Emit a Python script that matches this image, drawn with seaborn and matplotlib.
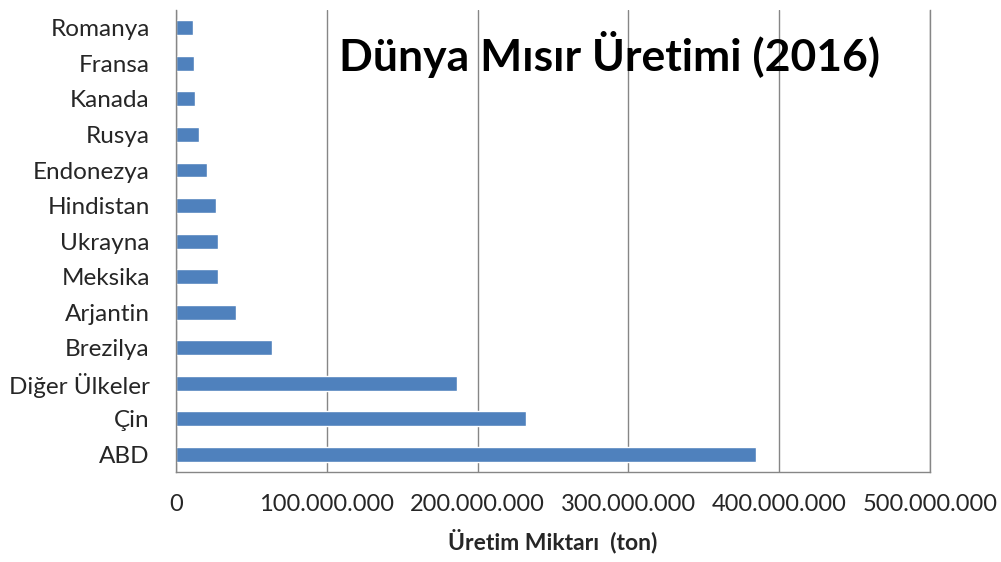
import matplotlib
matplotlib.use('Agg')
import matplotlib.pyplot as plt
import matplotlib.ticker as mticker
import seaborn as sns
import pandas as pd
import numpy as np

# data (top to bottom)
countries = ['Romanya', 'Fransa', 'Kanada', 'Rusya', 'Endonezya', 'Hindistan',
             'Ukrayna', 'Meksika', 'Arjantin', 'Brezilya', 'Diğer Ülkeler', 'Çin', 'ABD']
production = [11_300_000, 12_000_000, 12_800_000, 15_400_000, 20_500_000, 26_500_000,
              28_000_000, 28_000_000, 40_000_000, 63_800_000, 186_300_000, 232_000_000, 384_800_000]
x_ticks = [0, 100_000_000, 200_000_000, 300_000_000, 400_000_000, 500_000_000]

df = pd.DataFrame({'country': countries, 'production': production})

sns.set_style('white')
plt.rcParams['font.family'] = ['Lato', 'DejaVu Sans']

bar_color = '#4F81BD'
grid_color = '#868686'

fig = plt.figure(figsize=(10.01, 5.62), dpi=100)
ax = fig.add_axes([0.176, 0.16, 0.753, 0.822])

sns.barplot(data=df, y='country', x='production', orient='h', color=bar_color,
            width=0.42, saturation=1, ax=ax)

ax.set_xlim(0, 500_000_000)
ax.set_ylim(len(countries) - 0.5, -0.5)
ax.set_xticks(x_ticks)
ax.xaxis.set_major_formatter(mticker.FuncFormatter(lambda v, p: f'{int(v):,}'.replace(',', '.')))
ax.grid(axis='x', color=grid_color, linewidth=1)
ax.set_axisbelow(True)

# Excel-style tick marks between categories
ax.set_yticks(np.arange(len(countries) + 1) - 0.5, minor=True)
ax.tick_params(axis='y', which='major', length=0, pad=19, labelsize=17.5, labelcolor='#262626')
ax.tick_params(axis='y', which='minor', length=6, color=grid_color, width=1)
ax.tick_params(axis='x', which='major', length=8, direction='out', color=grid_color,
               width=1, pad=8, labelsize=17, labelcolor='#262626')

ax.spines['top'].set_visible(False)
for side in ['left', 'bottom', 'right']:
    ax.spines[side].set_color(grid_color)
    ax.spines[side].set_linewidth(1)

ax.set_ylabel('')
ax.set_xlabel('Üretim Miktarı  (ton)', fontsize=16.5, fontweight='bold', labelpad=10, color='#262626')
ax.text(0.575, 0.905, 'Dünya Mısır Üretimi (2016)', transform=ax.transAxes, ha='center', va='center',
        fontsize=32, fontweight='bold', color='black')

fig.savefig('out.png', dpi=100)
